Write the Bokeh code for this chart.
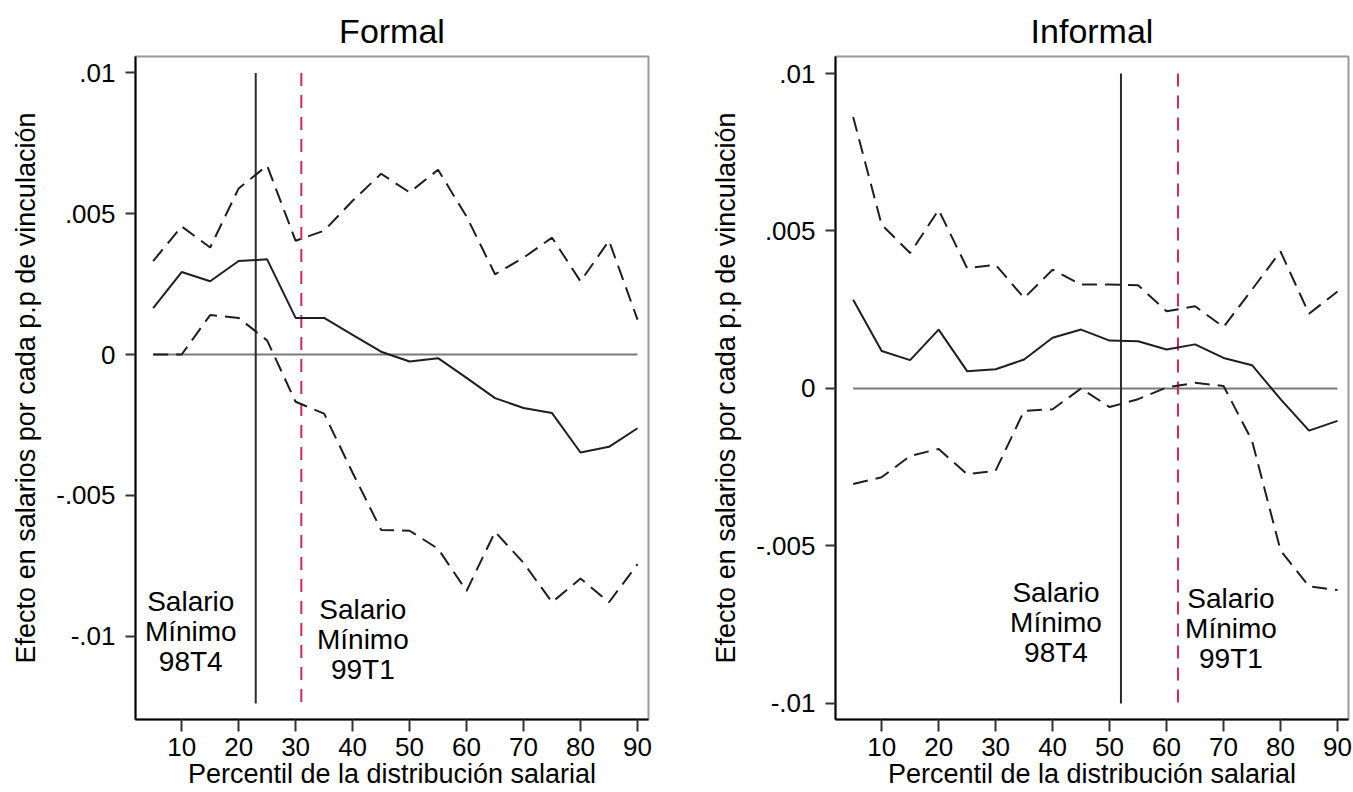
from bokeh.plotting import figure
from bokeh.layouts import row
from bokeh.models import Range1d, FixedTicker
from bokeh.core.properties import value
from bokeh.embed import file_html
from bokeh.resources import INLINE

# ---------------- data ----------------
pct = [5, 10, 15, 20, 25, 30, 35, 40, 45, 50, 55, 60, 65, 70, 75, 80, 85, 90]

formal_est = [0.00165, 0.00293, 0.0026, 0.00332, 0.00338, 0.0013, 0.0013, 0.0007, 0.0001, -0.00025,
              -0.00013, -0.00083, -0.00155, -0.0019, -0.00208, -0.00348, -0.00328, -0.00262]
formal_hi = [0.00332, 0.00455, 0.0038, 0.0059, 0.00671, 0.00404, 0.0044, 0.00546, 0.00642, 0.00576,
             0.00656, 0.0049, 0.00285, 0.00344, 0.00415, 0.0026, 0.00404, 0.00124]
formal_lo = [0.0, 0.0, 0.0014, 0.0013, 0.0005, -0.00168, -0.0021, -0.0042, -0.00623, -0.00626,
             -0.0069, -0.0084, -0.0063, -0.0074, -0.0088, -0.00796, -0.0088, -0.00745]

informal_est = [0.00282, 0.00119, 0.0009, 0.00187, 0.00055, 0.00061, 0.00092, 0.00161, 0.00187, 0.00152,
                0.0015, 0.00124, 0.0014, 0.00097, 0.00074, -0.00034, -0.00134, -0.00103]
informal_hi = [0.00862, 0.0052, 0.0043, 0.00567, 0.00382, 0.00393, 0.00287, 0.00377, 0.0033, 0.0033,
               0.00328, 0.00245, 0.00261, 0.00195, 0.00314, 0.00435, 0.00237, 0.00308]
informal_lo = [-0.00303, -0.00282, -0.00214, -0.00192, -0.00272, -0.00261, -0.00071, -0.00066, 0.0, -0.00059,
               -0.00034, 0.00003, 0.00018, 0.00008, -0.00166, -0.00514, -0.00628, -0.0064]

x_ticks = [10, 20, 30, 40, 50, 60, 70, 80, 90]
y_ticks = [-0.01, -0.005, 0.0, 0.005, 0.01]
y_tick_labels = ["-.01", "-.005", "0", ".005", ".01"]

min_wage_98 = {"Formal": 23, "Informal": 52}
min_wage_99 = {"Formal": 31, "Informal": 62}
label_98 = "Salario\nMínimo\n98T4"
label_99 = "Salario\nMínimo\n99T1"

FONT = "Liberation Sans"


def make_panel(title, est, hi, lo, v98, v99, yr, vl_bottom, lab98, lab99, width, bl, br):
    p = figure(width=width, height=792, output_backend="svg", toolbar_location=None,
               x_range=Range1d(1.9, 91.93), y_range=Range1d(*yr),
               min_border_left=bl, min_border_right=br, min_border_top=56, min_border_bottom=73)
    p.title.text = title
    p.title.align = "center"
    p.title.text_font = FONT
    p.title.text_font_size = "34px"
    p.title.text_font_style = "normal"
    p.title.text_color = "black"
    p.title.standoff = 14

    p.xgrid.visible = False
    p.ygrid.visible = False
    p.outline_line_color = "#9a9a9a"
    p.outline_line_width = 2

    for ax in (p.xaxis[0], p.yaxis[0]):
        ax.axis_line_color = "black"
        ax.axis_line_width = 2
        ax.major_tick_line_color = "#333333"
        ax.major_tick_line_width = 2
        ax.major_tick_in = 0
        ax.minor_tick_line_color = None
        ax.major_label_text_font = FONT
        ax.major_label_text_font_size = "26px"
        ax.major_label_text_color = "black"
        ax.axis_label_text_font = FONT
        ax.axis_label_text_font_size = "27px"
        ax.axis_label_text_font_style = "normal"
        ax.axis_label_text_color = "black"

    p.xaxis.ticker = FixedTicker(ticks=x_ticks)
    p.xaxis.axis_label = "Percentil de la distribución salarial"
    p.xaxis.major_tick_out = 12
    p.xaxis.major_label_standoff = 6
    p.xaxis.axis_label_standoff = 0

    p.yaxis.ticker = FixedTicker(ticks=y_ticks)
    p.yaxis.major_label_overrides = dict(zip(y_ticks, y_tick_labels))
    p.yaxis.major_label_orientation = "horizontal"
    p.yaxis.major_tick_out = 10
    p.yaxis.major_label_standoff = 10
    p.yaxis.axis_label = "Efecto en salarios por cada p.p de vinculación"
    p.yaxis.axis_label_standoff = 12

    # zero reference line
    p.line([pct[0], pct[-1]], [0, 0], line_color="#7a7a7a", line_width=2)

    # minimum wage markers
    p.segment(x0=[v98], y0=[y_ticks[-1]], x1=[v98], y1=[vl_bottom], line_color="#2b2b2b", line_width=2)
    p.segment(x0=[v99], y0=[y_ticks[-1]], x1=[v99], y1=[vl_bottom], line_color="#d6265c",
              line_width=2, line_dash="13 9")

    # confidence bands and estimate
    p.line(pct, hi, line_color="#1e1e1e", line_width=2, line_dash="15 8")
    p.line(pct, lo, line_color="#1e1e1e", line_width=2, line_dash="15 8")
    p.line(pct, est, line_color="#1e1e1e", line_width=2)

    p.text(x=[lab98[0]], y=[lab98[1]], text=[label_98], text_align="center", text_baseline="middle",
           text_font=value(FONT), text_font_size="28px", text_color="black", text_line_height=0.97)
    p.text(x=[lab99[0]], y=[lab99[1]], text=[label_99], text_align="center", text_baseline="middle",
           text_font=value(FONT), text_font_size="28px", text_color="black", text_line_height=0.97)
    return p


p1 = make_panel("Formal", formal_est, formal_hi, formal_lo,
                min_wage_98["Formal"], min_wage_99["Formal"],
                (-0.012966, 0.010586), -0.0124, (11.6, -0.00984), (41.8, -0.01012),
                700, 135, 52)
p2 = make_panel("Informal", informal_est, informal_hi, informal_lo,
                min_wage_98["Informal"], min_wage_99["Informal"],
                (-0.01051, 0.01054), -0.01, (40.6, -0.00742), (71.3, -0.00763),
                653, 135, 5)

p = row(p1, p2)
open("out.html", "w").write(file_html(p, INLINE))
